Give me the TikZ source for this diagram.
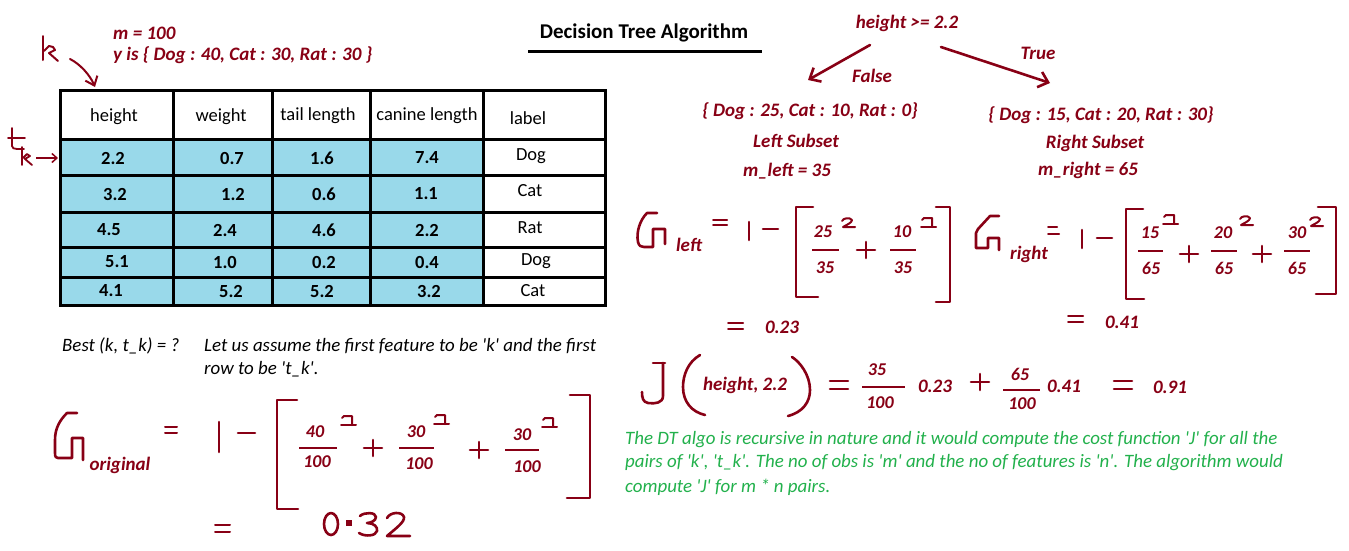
\documentclass[tikz,border=0pt]{standalone}
\usepackage{fontspec}
\setmainfont{Carlito}
\newfontfamily\cf{Carlito}[Ligatures=TeXOff]
\usetikzlibrary{arrows.meta}
\definecolor{dred}{RGB}{136,0,21}
\definecolor{lblue}{RGB}{153,217,234}
\definecolor{pgreen}{RGB}{34,177,76}
\begin{document}
\begin{tikzpicture}[x=1pt,y=-1pt,
  rt/.style={font=\cf\fontsize{19}{22}\selectfont\bfseries\itshape, text=dred, inner sep=0pt},
  fr/.style={font=\cf\fontsize{18}{20}\selectfont\bfseries\itshape, text=dred, inner sep=0pt},
  th/.style={font=\cf\fontsize{18.5}{21}\selectfont, inner sep=0pt},
  tn/.style={font=\cf\fontsize{18.5}{21}\selectfont\bfseries, inner sep=0pt},
  gt/.style={font=\cf\fontsize{18.9}{23.5}\selectfont\itshape, text=pgreen, inner sep=0pt, anchor=west},
  bt/.style={font=\cf\fontsize{18.9}{23}\selectfont\itshape, inner sep=0pt, anchor=west},
  hd/.style={line width=2.6pt, draw=dred, line cap=round, line join=round},
  hdt/.style={line width=2pt, draw=dred, line cap=round, line join=round},
  bar/.style={line width=2pt, draw=dred},
  grid/.style={line width=3pt, line cap=rect},
  sq/.pic={\draw[hdt] (1,2) -- (3,0) -- (11,0) -- (11,9); \draw[hdt] (0,9) -- (15,9);},
  sqb/.pic={\draw[hdt] (0,3) .. controls (1,0) and (8,-1) .. (10,2) .. controls (10,5) and (4,7) .. (1,9) -- (13,9);},
  plus/.pic={\draw[hd] (-9,0) -- (9,0); \draw[hd] (0,-8) -- (0,8);},
  eqs/.pic={\draw[hdt] (0,0) -- (15,0); \draw[hdt] (0,6) -- (15,6);}
]
\fill[white] (0,0) rectangle (1349,550);
\useasboundingbox (0,0) rectangle (1349,550);

% ---------- table ----------
\fill[lblue] (60,139) rectangle (483,305);
\draw[grid] (60,90) rectangle (605,305);
\foreach \yy in {139,175,212,247,277} \draw[grid] (60,\yy) -- (605,\yy);
\foreach \xx in {173,272,370,483} \draw[grid] (\xx,90) -- (\xx,305);
\node[th] (h1) at (114,117) {height};
\node[th] (h2) at (221,117) {weight};
\node[th] (h3) at (318,116) {tail length};
\node[th] (h4) at (427,116) {canine length};
\node[th] (h5) at (528,118) {label};
\node[tn] (r11) at (113,158) {2.2}; \node[tn] (r12) at (232,158) {0.7}; \node[tn] (r13) at (322,158) {1.6}; \node[tn] (r14) at (427,158) {7.4}; \node[th] (r15) at (531,156) {Dog};
\node[tn] (r21) at (115,194) {3.2}; \node[tn] (r22) at (233,194) {1.2}; \node[tn] (r23) at (324,194) {0.6}; \node[tn] (r24) at (426,194) {1.1}; \node[th] (r25) at (530,191) {Cat};
\node[tn] (r31) at (109,230) {4.5}; \node[tn] (r32) at (225,230) {2.4}; \node[tn] (r33) at (324,230) {4.6}; \node[tn] (r34) at (427,230) {2.2}; \node[th] (r35) at (530,228) {Rat};
\node[tn] (r41) at (117,262) {5.1}; \node[tn] (r42) at (225,262) {1.0}; \node[tn] (r43) at (324,262) {0.2}; \node[tn] (r44) at (427,262) {0.4}; \node[th] (r45) at (536,261) {Dog};
\node[tn] (r51) at (111,291) {4.1}; \node[tn] (r52) at (231,291) {5.2}; \node[tn] (r53) at (322,291) {5.2}; \node[tn] (r54) at (429,291) {3.2}; \node[th] (r55) at (533,291) {Cat};

% ---------- top-left notes ----------
\node[rt, anchor=west] (m) at (113,33) {m = 100};
\node[rt, anchor=west] (y) at (113,55) {y is \{ Dog : 40, Cat : 30, Rat : 30 \}};
% hand "k" and arrow
\draw[hdt] (43,36) -- (43,60);
\draw[hdt] (44,51) -- (49,46) -- (53,47) -- (55,50) -- (49,53) -- (58,61);
\coordinate (ka) at (70,59);
\coordinate (kb) at (95,87);
\draw[hdt, -{Straight Barb[length=8pt,width=13pt]}] (ka) .. controls (80,64) and (90,75) .. (kb);
% hand "t_k" and arrow
\draw[line width=1.8pt, draw=dred, line cap=round] (8,138) -- (25,138);
\draw[line width=1.8pt, draw=dred, line cap=round, line join=round] (12,128) -- (12,146) .. controls (12,148) and (14,149) .. (17,149) -- (24,149);
\draw[line width=1.8pt, draw=dred, line cap=round] (22,147) -- (22,165);
\draw[line width=1.8pt, draw=dred, line cap=round, line join=round] (23,158) -- (27,154) -- (30,156) -- (25,159) -- (32,165);
\coordinate (ta) at (36,158);
\coordinate (tb) at (58,158);
\draw[line width=1.5pt, draw=dred, -{Straight Barb[length=5pt,width=9pt]}] (ta) -- (tb);

% ---------- title ----------
\node[font=\cf\fontsize{21}{24}\selectfont\bfseries, inner sep=0pt] (title) at (644,33) {Decision Tree Algorithm};
\draw[line width=3pt] (528,51) -- (762,51);

% ---------- split ----------
\node[rt] (split) at (907,23) {height >= 2.2};
\coordinate (fa) at (870,45);
\coordinate (fb) at (808,80);
\coordinate (tra) at (941,47);
\coordinate (trb) at (1050,83);
\draw[hd, -{Straight Barb[length=9pt,width=16pt]}] (fa) -- (fb);
\draw[hd, -{Straight Barb[length=9pt,width=16pt]}] (tra) -- (trb);
\node[rt] (false) at (872,76) {False};
\node[rt] (true) at (1038,53) {True};
\node[rt] (ls) at (810,111) {\{ Dog : 25, Cat : 10, Rat : 0\}};
\node[rt] (lsn) at (796,141) {Left Subset};
\node[rt] (ml) at (787,171) {m\_left = 35};
\node[rt] (rs) at (1101,115) {\{ Dog : 15, Cat : 20, Rat : 30\}};
\node[rt] (rsn) at (1095,143) {Right Subset};
\node[rt] (mr) at (1088,170) {m\_right = 65};

% ---------- G left ----------
\draw[hd] (657,213) -- (647,213) .. controls (640,220) and (636,232) .. (638,242) .. controls (639,246) and (641,247) .. (644,247) -- (653,247) -- (653,229) -- (665,229) -- (665,244);
\node[rt] (gl) at (689,245) {left};
\draw[hdt] (713,220) -- (727,220); \draw[hdt] (713,225) -- (727,225);
\draw[hd] (749,222) -- (749,240); \draw[hd] (763,229) -- (778,229);
\draw[hd] (813,207) -- (796,207) -- (796,297) -- (818,297);
\draw[hd] (936,207) -- (950,207) -- (950,302) -- (936,302);
\node[fr] (n1) at (823,232) {25}; \draw[bar] (812,250) -- (839,250); \node[fr] (d1) at (825,268) {35};
\pic at (842,218) {sqb};
\pic at (866,250) {plus};
\node[fr] (n2) at (902,232) {10}; \draw[bar] (890,250) -- (916,250); \node[fr] (d2) at (903,268) {35};
\pic at (921,218) {sq};
\pic at (728,323) {eqs};
\node[rt] (v1) at (782,327) {0.23};

% ---------- G right ----------
\draw[hd] (999,216) -- (990,216) -- (978,229) -- (976,233) -- (976,248) -- (988,248) -- (988,238) -- (999,238) -- (999,250);
\node[rt] (gr) at (1029,254) {right};
\draw[hdt] (1048,227) -- (1057,227); \draw[hdt] (1048,234) -- (1059,234);
\draw[hd] (1082,230) -- (1082,248); \draw[hd] (1097,238) -- (1112,238);
\draw[hd] (1143,209) -- (1126,209) -- (1126,299) -- (1144,299);
\draw[hd] (1318,207) -- (1336,207) -- (1336,294) -- (1316,294);
\node[fr] (n3) at (1150,233) {15}; \draw[bar] (1138,251) -- (1163,251); \node[fr] (d3) at (1151,268) {65};
\pic at (1163,215) {sq};
\pic at (1189,254) {plus};
\node[fr] (n4) at (1223,233) {20}; \draw[bar] (1211,251) -- (1237,251); \node[fr] (d4) at (1224,268) {65};
\pic at (1240,216) {sqb};
\pic at (1262,254) {plus};
\node[fr] (n5) at (1297,233) {30}; \draw[bar] (1284,251) -- (1310,251); \node[fr] (d5) at (1297,268) {65};
\pic at (1310,217) {sqb};
\pic at (1068,316) {eqs};
\node[rt] (v2) at (1122,322) {0.41};

% ---------- J ----------
\draw[hd] (653,363) -- (665,363);
\draw[hd] (663,363) -- (663,396) .. controls (663,403) and (655,404) .. (648,403) .. controls (643,402) and (642,398) .. (642,392);
\draw[hd] (700,355) .. controls (688,362) and (683,375) .. (683,387) .. controls (683,402) and (692,412) .. (705,415);
\draw[hd] (792,357) .. controls (800,362) and (810,375) .. (810,390) .. controls (810,402) and (803,412) .. (788,416);
\node[rt] (jarg) at (745,385) {height, 2.2};
\draw[hd] (830,381) -- (848,381); \draw[hd] (830,389) -- (848,389);
\node[fr] (n6) at (877,370) {35}; \draw[bar] (862,387) -- (905,387); \node[fr] (d6) at (880,403) {100};
\node[rt] (v3) at (935,386) {0.23};
\pic at (980,382) {plus};
\node[fr] (n7) at (1020,374) {65}; \draw[bar] (1003,390) -- (1040,390); \node[fr] (d7) at (1022,404) {100};
\node[rt] (v4) at (1064,386) {0.41};
\draw[hd] (1114,381) -- (1132,381); \draw[hd] (1114,389) -- (1132,389);
\node[rt] (v5) at (1170,387) {0.91};

% ---------- green note ----------
\node[gt] (g1) at (625,440) {The DT algo is recursive in nature and it would compute the cost function 'J' for all the};
\node[gt] (g2) at (625,463) {pairs of 'k', 't\_k'. The no of obs is 'm' and the no of features is 'n'. The algorithm would};
\node[gt] (g3) at (625,487) {compute 'J' for m * n pairs.};

% ---------- bottom left ----------
\node[bt] (best) at (62,346) {Best (k, t\_k) = ?};
\node[bt] (as1) at (204,346) {Let us assume the first feature to be 'k' and the first};
\node[bt] (as2) at (204,369) {row to be 't\_k'.};

% G original
\draw[hd] (77,413) -- (67,413) .. controls (60,420) and (55,428) .. (55,440) -- (55,453) .. controls (55,457) and (56,458) .. (58,458) -- (72,458) -- (72,438) -- (83,438) -- (83,460);
\node[rt] (go) at (120,465) {original};
\draw[hdt] (165,427) -- (177,427); \draw[hdt] (165,433) -- (177,433);
\draw[hd] (219,422) -- (219,452); \draw[hd] (238,433) -- (255,433);
\draw[hd] (297,400) -- (277,400) -- (277,509) -- (298,509);
\draw[hd] (570,395) -- (590,395) -- (590,498) -- (567,498);
\node[fr] (n8) at (315,432) {40}; \draw[bar] (299,448) -- (337,448); \node[fr] (d8) at (317,462) {100};
\pic at (341,416) {sq};
\pic at (373,448) {plus};
\node[fr] (n9) at (416,432) {30}; \draw[bar] (399,448) -- (434,448); \node[fr] (d9) at (419,464) {100};
\pic at (434,415) {sq};
\pic at (479,450) {plus};
\node[fr] (n10) at (522,435) {30}; \draw[bar] (505,450) -- (539,450); \node[fr] (d10) at (527,467) {100};
\pic at (542,418) {sq};
% = 0.32
\draw[hdt] (215,525) -- (230,525); \draw[hdt] (215,532) -- (230,532);
\draw[hd] (331,524) ellipse [x radius=7, y radius=11];
\fill[dred] (346,520) rectangle (352,526);
\draw[hd] (360,516) .. controls (364,512) and (376,512) .. (376,517) .. controls (376,521) and (370,523) .. (367,523) .. controls (374,523) and (378,527) .. (377,531) .. controls (376,536) and (365,537) .. (359,533);
\draw[hd] (387,518) .. controls (390,512) and (402,511) .. (404,517) .. controls (405,522) and (395,529) .. (387,536) -- (410,536);
\end{tikzpicture}
\end{document}
